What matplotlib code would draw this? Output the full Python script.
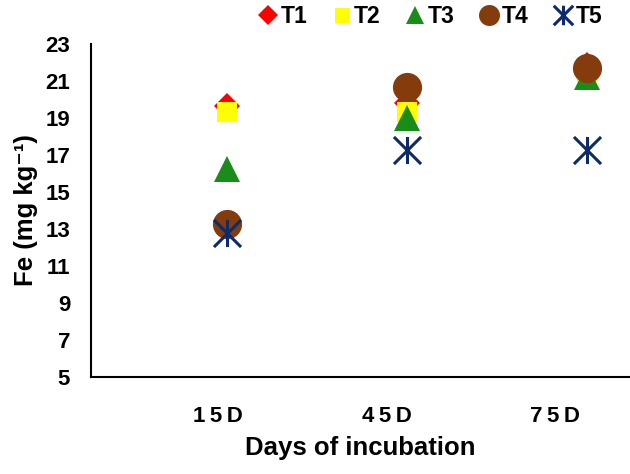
import matplotlib
matplotlib.use("Agg")
from matplotlib import pyplot as plt
from matplotlib.path import Path

plt.rcParams['font.family'] = ['Liberation Sans', 'DejaVu Sans']
plt.rcParams['font.weight'] = 'bold'

days = ["15D", "45D", "75D"]
day_labels = ["1\u20095\u2009D", "4\u20095\u2009D", "7\u20095\u2009D"]

T1 = [19.65, 19.8, 21.85]
T2 = [19.3, 19.3, 21.5]
T3 = [16.25, 19.0, 21.2]
T4 = [13.25, 20.7, 21.7]
T5 = [12.8, 17.25, 17.25]

series = ["T1", "T2", "T3", "T4", "T5"]
values = [T1, T2, T3, T4, T5]

# excel style star: vertical bar + X
star = Path([(0, -1), (0, 1), (-1, -1), (1, 1), (-1, 1), (1, -1)],
            [Path.MOVETO, Path.LINETO, Path.MOVETO, Path.LINETO,
             Path.MOVETO, Path.LINETO])

styles = {
    "T1": dict(marker="D", color="#ff0000", ms=13.7),
    "T2": dict(marker="s", color="#ffff00", ms=15),
    "T3": dict(marker="^", color="#1a8c1a", ms=18.5),
    "T4": dict(marker="o", color="#843c0c", ms=21),
    "T5": dict(marker=star, color="#0d2a6b", ms=19.5, mew=2.2),
}

fig = plt.figure(figsize=(6.3, 4.74), dpi=100)
ax = fig.add_axes([0.1444, 0.2046, 0.8556, 0.7025])

x = range(len(days))
for name, vals in zip(series, values):
    st = styles[name]
    ax.plot(x, vals, linestyle="none", marker=st["marker"], color=st["color"],
            markersize=st["ms"], markeredgewidth=st.get("mew", 0),
            label=name, clip_on=False)

ax.set_ylim(5, 23)
ax.set_yticks(range(5, 24, 2))
ax.set_xlim(-0.756, 2.24)
# tick labels in the reference sit a little left of the markers
ax.set_xticks([-0.05, 0.889, 1.822])
ax.set_xticklabels(day_labels)

ax.tick_params(axis="both", length=0, labelsize=16)
ax.tick_params(axis="y", pad=15)
ax.tick_params(axis="x", pad=21)

for s in ["top", "right"]:
    ax.spines[s].set_visible(False)
for s in ["left", "bottom"]:
    ax.spines[s].set_linewidth(1.5)
    ax.spines[s].set_color("black")

ax.set_xlabel("Days of incubation", fontsize=18.5, fontweight="bold", labelpad=6)
ax.set_ylabel("Fe (mg kg\u207b\u00b9)", fontsize=18.5, fontweight="bold", labelpad=5)

leg = fig.legend(loc="center", bbox_to_anchor=(0.683, 0.966), ncol=5, frameon=False,
                 markerscale=0.72, handlelength=0.8, handletextpad=0.15,
                 columnspacing=1.1, fontsize=16.5, borderpad=0)

plt.savefig("out.png", dpi=100)
plt.close()
